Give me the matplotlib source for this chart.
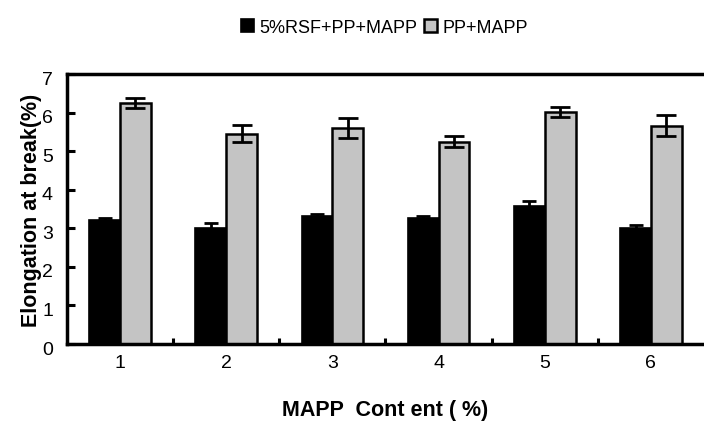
import numpy as np
import matplotlib.pyplot as plt
from matplotlib.transforms import ScaledTranslation

plt.rcParams['font.family'] = ['Liberation Sans', 'DejaVu Sans']

contents = [1, 2, 3, 4, 5, 6]
rsf_vals = [3.21, 3.00, 3.32, 3.26, 3.57, 3.00]
rsf_err = [0.05, 0.14, 0.04, 0.06, 0.14, 0.09]
pp_vals = [6.25, 5.46, 5.61, 5.25, 6.02, 5.66]
pp_err = [0.13, 0.21, 0.26, 0.15, 0.12, 0.27]
labels = ["5%RSF+PP+MAPP", "PP+MAPP"]

fig = plt.figure(figsize=(7.04, 4.27), dpi=100)
ax = fig.add_axes([0.095, 0.192, 0.905, 0.632])

x = np.array(contents)
w = 0.29
ax.bar(x - w / 2, rsf_vals, w, color="black", edgecolor="black", linewidth=1.2,
       label=labels[0], yerr=rsf_err,
       error_kw=dict(ecolor="black", elinewidth=2, capsize=5, capthick=2))
ax.bar(x + w / 2, pp_vals, w, color="#c4c4c4", edgecolor="black", linewidth=1.8,
       label=labels[1], yerr=pp_err,
       error_kw=dict(ecolor="black", elinewidth=2, capsize=7, capthick=2))

ax.set_xlim(0.5, 6.5)
ax.set_ylim(0, 7)
ax.set_xticks(x)
ax.set_xticks(x[:-1] + 0.5, minor=True)
ax.tick_params(axis="x", which="major", length=0, labelsize=14, pad=7)
ax.tick_params(axis="x", which="minor", direction="in", length=4, width=2.2)
ax.set_yticks(range(8))
ax.tick_params(axis="y", direction="in", length=6, width=2.2, labelsize=14, pad=10)
# y labels sit a little below their ticks in the original
off = ScaledTranslation(0, -3 / 100, fig.dpi_scale_trans)
for t in ax.get_yticklabels():
    t.set_transform(t.get_transform() + off)

for s in ["left", "bottom", "top"]:
    ax.spines[s].set_linewidth(2.5)
ax.spines["right"].set_visible(False)

ax.set_ylabel("Elongation at break(%)", fontsize=15.5, fontweight="bold", labelpad=0)
ax.set_xlabel("MAPP  Cont ent ( %)", fontsize=15.5, fontweight="bold", labelpad=20)

fig.legend(loc="center", bbox_to_anchor=(0.546, 0.934), ncol=2, frameon=False,
           fontsize=13, handlelength=0.7, handleheight=0.7, handletextpad=0.3,
           columnspacing=0.4)

fig.savefig("out.png", dpi=100)
